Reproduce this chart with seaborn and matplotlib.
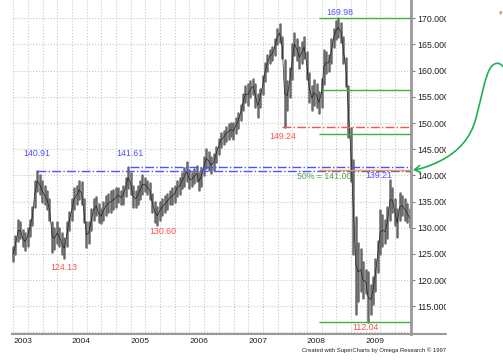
import numpy as np
import pandas as pd
import matplotlib
matplotlib.use('Agg')
import matplotlib.pyplot as plt
import matplotlib.dates as mdates
import seaborn as sns
from matplotlib.path import Path
from matplotlib.patches import FancyArrowPatch
from matplotlib.transforms import Bbox, TransformedBbox

sns.set_style('white')
plt.rcParams['font.family'] = ['Liberation Sans', 'DejaVu Sans']

# half-monthly high / low (EUR/JPY style price)
lows = [123.6, 125.0, 127.5, 128.0, 126.5, 125.7, 126.5, 128.5, 130.5, 134.0,
        137.0, 136.5, 135.0, 134.5, 133.5, 131.5, 125.4, 126.0, 127.0, 126.5,
        125.0, 124.13, 126.5, 129.5,
        131.5, 133.5, 134.5, 135.5, 134.5, 131.0, 126.4, 127.0, 129.5, 131.5,
        132.5, 131.0, 130.9, 131.5, 132.5, 133.0, 133.0, 133.5, 134.0, 135.0,
        134.5, 134.5, 136.0, 137.5,
        136.5, 134.0, 134.0, 134.5, 135.5, 136.5, 137.0, 136.5, 135.5, 133.0,
        131.0, 130.60, 131.5, 132.5, 133.0, 133.5, 134.5, 134.5, 135.0, 136.0,
        136.5, 137.5, 138.0, 139.0,
        137.5, 138.0, 138.5, 139.0, 137.2, 138.0, 140.0, 141.5, 141.0, 140.4,
        141.0, 142.5, 144.0, 145.5, 146.0, 146.5, 147.0, 147.5, 147.0, 148.0,
        149.0, 150.5, 152.5, 154.0,
        153.5, 155.0, 155.5, 153.0, 151.2, 153.0, 155.5, 158.0, 160.0, 161.5,
        162.0, 163.0, 165.0, 165.5, 162.5, 149.24, 152.5, 155.0, 158.5, 163.0,
        162.0, 160.5, 161.5, 162.5,
        158.5, 154.0, 152.5, 153.5, 153.0, 151.9, 153.0, 157.5, 159.5, 160.0,
        161.5, 164.5, 166.0, 166.5, 165.5, 161.5, 157.0, 147.4, 139.0, 125.0,
        113.6, 116.0, 118.0, 116.5,
        117.5, 112.04, 113.5, 115.5, 118.0, 121.5, 125.0, 126.5, 127.0, 128.0,
        131.5, 133.0, 130.5, 128.3, 131.5, 132.5, 131.5, 131.0, 130.2]
highs = [126.4, 128.5, 131.5, 131.0, 129.5, 129.0, 130.0, 131.5, 134.0, 139.0,
         140.91, 140.0, 139.0, 138.0, 137.0, 135.5, 131.0, 130.0, 131.0, 130.0,
         129.0, 128.0, 131.0, 133.0,
         135.5, 137.5, 138.0, 139.0, 138.8, 135.5, 131.0, 131.0, 133.5, 135.5,
         135.8, 134.5, 133.5, 135.0, 136.0, 136.5, 137.0, 137.2, 137.5, 137.5,
         137.0, 138.0, 139.5, 141.61,
         140.5, 138.0, 137.0, 138.0, 139.0, 140.1, 139.5, 139.0, 138.5, 136.5,
         135.0, 134.0, 135.0, 135.5, 136.0, 136.5, 137.0, 137.5, 138.0, 139.0,
         139.5, 140.5, 141.5, 142.6,
         141.0, 140.5, 141.2, 141.7, 140.5, 141.5, 143.5, 145.0, 144.5, 143.5,
         144.0, 145.5, 147.0, 148.0, 148.5, 149.3, 149.8, 150.0, 150.0, 151.0,
         152.0, 153.5, 155.5, 157.0,
         157.5, 158.0, 158.5, 157.5, 155.5, 156.5, 159.0, 161.5, 163.0, 164.0,
         164.5, 166.0, 168.0, 168.9, 166.5, 162.0, 158.0, 160.5, 165.0, 167.2,
         166.0, 164.6, 165.5, 166.5,
         163.5, 159.5, 157.0, 158.2, 157.5, 156.0, 158.5, 164.0, 163.5, 163.0,
         166.0, 168.0, 169.5, 169.98, 169.2, 166.5, 162.5, 157.0, 149.0, 143.0,
         132.0, 127.1, 126.0, 123.5,
         122.0, 121.5, 119.0, 120.5, 124.0, 127.5, 133.4, 132.5, 131.5, 134.0,
         139.21, 137.5, 135.5, 133.5, 136.6, 136.0, 135.5, 134.5, 133.5]
dates = pd.date_range('2003-01-01', periods=len(lows), freq='SMS')

# horizontal levels: value, start (decimal year), colour, style
level_vals = [140.91, 141.61, 149.24, 169.98, 156.30, 147.85, 141.00, 112.04]
level_from = [2003.40, 2004.99, 2007.57, 2008.20, 2008.25, 2008.20, 2008.20, 2008.20]
level_cols = ['#5050ff', '#5050ff', '#ff5050', '#40b040', '#40b040', '#40b040',
              '#f0a030', '#40b040']
level_ls = ['-.', '-.', '-.', '-', '-', '-', '-', '-']

# annotations: text, decimal year, price, colour
note_txt = ['140.91', '141.61', '169.98', '149.24', '50% = 141.00', '139.21',
            '124.13', '130.60', '112.04']
note_x = [2003.41, 2004.99, 2008.56, 2007.59, 2008.29, 2009.22, 2003.87, 2005.55, 2009.00]
note_y = [144.1, 144.1, 171.2, 147.5, 139.7, 139.9, 122.4, 129.2, 110.9]
note_col = ['#5050ff', '#5050ff', '#5050ff', '#ff5050', '#50a050', '#5050ff',
            '#ff5050', '#ff5050', '#ff5050']


def yr(v):
    y = int(v)
    d = pd.Timestamp(year=y, month=1, day=1) + pd.Timedelta(days=(v - y) * 365.25)
    return mdates.date2num(d)


bars = pd.DataFrame({
    'date': np.concatenate([dates, dates]),
    'price': np.concatenate([lows, highs]),
    'bar': np.concatenate([np.arange(len(lows)), np.arange(len(lows))]),
})

W, H = 503, 360
fig = plt.figure(figsize=(W / 100, H / 100), dpi=100)
ax = fig.add_axes([12 / W, (H - 334) / H, (411 - 12) / W, 334 / H])

# grid
for q in np.arange(2003, 2009.76, 0.25):
    ax.axvline(yr(q), color='#c8c8c8', ls=':', lw=0.8, zorder=0)
for p in range(110, 175, 5):
    ax.axhline(p, color='#c8c8c8', ls=':', lw=0.8, zorder=0)

sns.lineplot(data=bars, x='date', y='price', units='bar', estimator=None,
             color='#6a6a6a', lw=1.8, ax=ax, zorder=2)
mid = (np.array(lows) + np.array(highs)) / 2
sns.lineplot(x=dates, y=mid, color='#1a1a1a', lw=0.45, ax=ax, zorder=3)

x_right = yr(2009.77)
for v, f, c, s in zip(level_vals, level_from, level_cols, level_ls):
    ax.hlines(v, yr(f), x_right, colors=c, linestyles=s, lw=1.0, zorder=4)

for t, x, y, c in zip(note_txt, note_x, note_y, note_col):
    ax.text(yr(x), y, t, color=c, fontsize=6.3, ha='center', va='center', zorder=5)

ax.set_xlim(yr(2002.98), x_right)
ax.set_ylim(109.7, 173.5)
ax.set_xlabel('')
ax.set_ylabel('')

ax.set_xticks([yr(y) for y in range(2003, 2010)])
ax.set_xticklabels([str(y) for y in range(2003, 2010)], ha='left')
ax.yaxis.tick_right()
ax.set_yticks(range(115, 171, 5))
ax.set_yticklabels(['{:.4f}'.format(p) for p in range(115, 171, 5)])
ax.tick_params(axis='x', direction='out', length=3, width=0.8, color='#808080',
               labelsize=6.1, pad=0, labelcolor='#202020')
ax.tick_params(axis='y', direction='out', length=3, width=0.8, color='#808080',
               labelsize=6.3, pad=1.5, labelcolor='#202020')

for side in ['left', 'top']:
    ax.spines[side].set_visible(False)
ax.spines['right'].set_color('#9a9a9a')
ax.spines['right'].set_linewidth(2.0)
ax.spines['bottom'].set_color('#9a9a9a')
ax.spines['bottom'].set_linewidth(1.5)

# axis line continues under the price scale
fig.add_artist(plt.Line2D([411 / W, 446 / W], [(H - 334) / H] * 2,
                          color='#9a9a9a', lw=1.5))

clip = TransformedBbox(Bbox([[0, 0], [446 / W, 1]]), fig.transFigure)
for lbl in ax.get_yticklabels():
    lbl.set_clip_on(True)
    lbl.set_clip_box(clip)

fig.text(446 / W, 1 - 350.5 / H, 'Created with SuperCharts by Omega Research \u00a9 1997',
         fontsize=4.2, ha='right', va='center', color='#202020')

# curved green arrow in the right margin
pts = [(504, 68), (501, 63), (496, 61), (491, 67),
       (485, 75), (481, 100), (476, 118),
       (471, 138), (458, 152), (440, 161),
       (428, 167), (420, 169), (413, 170)]
verts = [(x / W, 1 - y / H) for x, y in pts]
codes = [Path.MOVETO] + [Path.CURVE4] * 12
arrow = FancyArrowPatch(path=Path(verts, codes), arrowstyle='->,head_length=4,head_width=2.5',
                        color='#20b050', lw=1.2, transform=fig.transFigure)
fig.add_artist(arrow)
fig.text(501 / W, 1 - 13 / H, '\u25bc', fontsize=4, color='#d08020', ha='center', va='center')

fig.savefig('out.png', dpi=100)
